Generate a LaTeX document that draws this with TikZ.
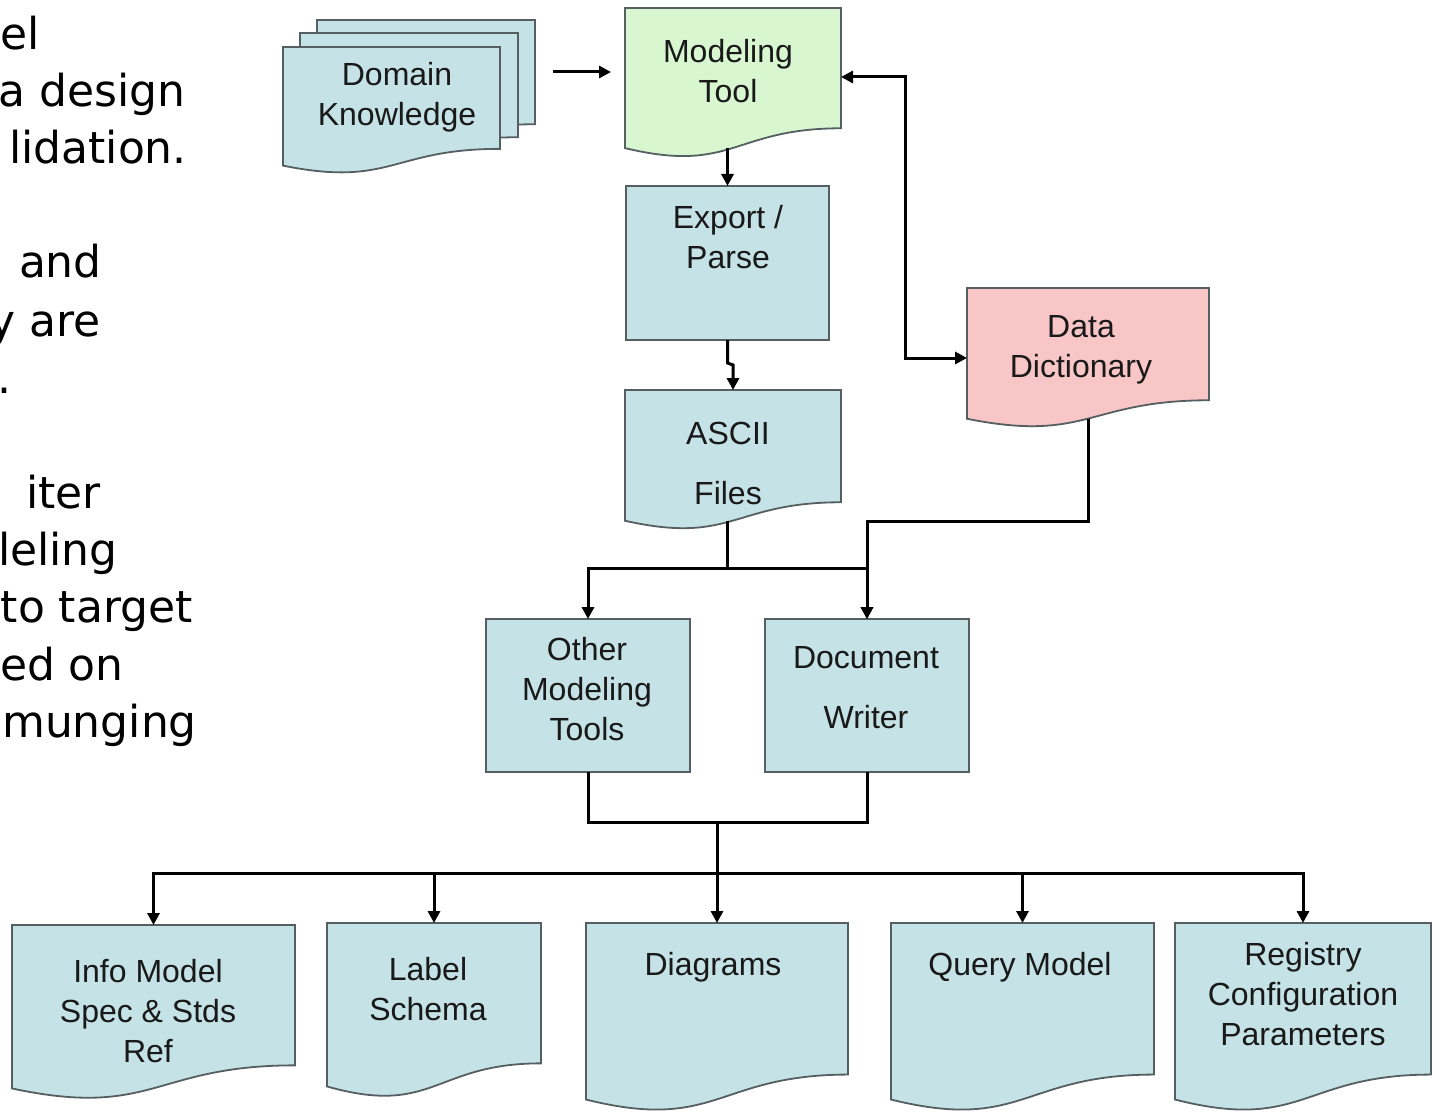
\documentclass[tikz,border=0pt]{standalone}
\usepackage{fontspec}
\setmainfont{Liberation Sans}
\newfontfamily\leftfont{DejaVu Sans}
\usetikzlibrary{arrows.meta,calc,fit}
\definecolor{docblue}{RGB}{197,226,230}
\definecolor{docgreen}{RGB}{216,246,208}
\definecolor{docpink}{RGB}{248,198,198}
\definecolor{edgegray}{RGB}{85,95,97}
\newcommand{\docshape}[2]{%
  \path[docedge, fill=#2] (#1.north west) -- (#1.north east)
    -- ($(#1.north east)!0.802!(#1.south east)$)
    .. controls ($(#1.north)!0.802!(#1.south)$) and ($(#1.north)!1.107!(#1.south)$)
    .. ($(#1.north west)!0.934!(#1.south west)$) -- cycle;}
\newcommand{\boxshape}[2]{%
  \path[docedge, fill=#2] (#1.north west) rectangle (#1.south east);}
\tikzset{
  frame/.style={inner sep=0pt, outer sep=0pt},
  docedge/.style={draw=edgegray, line width=1.8pt},
  lbl/.style={font=\fontsize{32}{40}\selectfont, align=center, inner sep=0pt, text=black!90},
  lefttext/.style={font=\leftfont\fontsize{44}{52}\selectfont, anchor=base east, inner sep=0pt},
  line/.style={line width=3pt, black},
  arr/.style={line width=3pt, black, -{Triangle[length=12pt,width=12pt]}},
  arrboth/.style={line width=3pt, black, {Triangle[length=12pt,width=12pt]}-{Triangle[length=12pt,width=12pt]}},
}
\begin{document}
\begin{tikzpicture}[x=1pt,y=-1pt]
\useasboundingbox (0,0) rectangle (1441,1118);

% ---- left text fragments ----
\node[lefttext] (t1) at (40,50) {el};
\node[lefttext] (t2) at (186,107) {a design};
\node[lefttext] (t3) at (187,164) {lidation.};
\node[lefttext] (t4) at (102,278) {and};
\node[lefttext] (t5) at (101,336) {y are};
\node[lefttext] (t6) at (12,393) {.};
\node[lefttext] (t7) at (101,508) {iter};
\node[lefttext] (t8) at (118,565) {leling};
\node[lefttext] (t9) at (193,622) {to target};
\node[lefttext] (t10) at (124,680) {ed on};
\node[lefttext] (t11) at (197,737) {munging};

% ---- frames ----
\node[frame, fit={(317,20) (535,150)}] (dkb) {};
\node[frame, fit={(300,33) (518,163)}] (dkm) {};
\node[frame, fit={(283,47) (500,174)}] (dkf) {};
\node[frame, fit={(625,8) (841,158)}] (mt) {};
\node[frame, fit={(626,186) (829,340)}] (exp) {};
\node[frame, fit={(625,390) (841,530)}] (ascii) {};
\node[frame, fit={(967,288) (1209,428)}] (dd) {};
\node[frame, fit={(486,619) (690,772)}] (oth) {};
\node[frame, fit={(765,619) (969,772)}] (dw) {};
\node[frame, fit={(12,925) (295,1100)}] (info) {};
\node[frame, fit={(327,923) (541,1098)}] (label) {};
\node[frame, fit={(586,923) (848,1112)}] (diag) {};
\node[frame, fit={(891,923) (1154,1112)}] (query) {};
\node[frame, fit={(1175,923) (1431,1112)}] (reg) {};

% ---- shapes ----
\docshape{dkb}{docblue}
\docshape{dkm}{docblue}
\docshape{dkf}{docblue}
\docshape{mt}{docgreen}
\boxshape{exp}{docblue}
\docshape{ascii}{docblue}
\docshape{dd}{docpink}
\boxshape{oth}{docblue}
\boxshape{dw}{docblue}
\docshape{info}{docblue}
\docshape{label}{docblue}
\docshape{diag}{docblue}
\docshape{query}{docblue}
\docshape{reg}{docblue}

% ---- labels ----
\node[lbl] (dkT) at (397,97) {Domain\\Knowledge};
\node[lbl] (mtT) at (728,71) {Modeling\\Tool};
\node[lbl] (expT) at (728,237) {Export /\\Parse};
\node[lbl] (asciiT) at (728,463) {ASCII\\[20pt]Files};
\node[lbl] (ddT) at (1081,350) {Data\\Dictionary};
\node[lbl] (othT) at (587,689) {Other\\Modeling\\Tools};
\node[lbl] (dwT) at (866,688) {Document\\[20pt]Writer};
\node[lbl] (infoT) at (148,1011) {Info Model\\Spec \& Stds\\Ref};
\node[lbl] (labelT) at (428,989) {Label\\Schema};
\node[lbl] (diagT) at (713,967) {Diagrams};
\node[lbl] (queryT) at (1020,967) {Query Model};
\node[lbl] (regT) at (1303,994) {Registry\\Configuration\\Parameters};

% ---- connectors ----
\draw[arr] ([xshift=18pt,yshift=13pt]dkb.east) -- ([xshift=-14pt,yshift=11pt]mt.west);
\draw[arr] ([yshift=38pt]exp.north) -- (exp.north);
\draw[arr] (exp.south) -- ++(0,23) -- ($(ascii.north)+(0,-25)$) -- (ascii.north);
\draw[arrboth] ([yshift=6pt]mt.east) -- ++(64,0) |- (dd.west);
\draw[arr] ($(dd.north)!0.933!(dd.south)$) -- ++(0,103) -| (dw.north);
\path ($(ascii.north)!0.933!(ascii.south)$) ++(-6,0) coordinate (aB);
\draw[arr] (aB) -- ++(0,48) -| (oth.north);
\draw[arr] (aB) -- ++(0,48) -| (dw.north);
\draw[line] (oth.south) -- ++(0,50) -| (dw.south);
\path (oth.south) ++(0,50) coordinate (j1);
\draw[line] (j1 -| diag.north) -- ++(0,51) coordinate (j2);
\draw[arr] (j2) -| (info.north);
\draw[arr] (j2) -| (label.north);
\draw[arr] (j2) -- (diag.north);
\draw[arr] (j2) -| (query.north);
\draw[arr] (j2) -| (reg.north);
\end{tikzpicture}
\end{document}
